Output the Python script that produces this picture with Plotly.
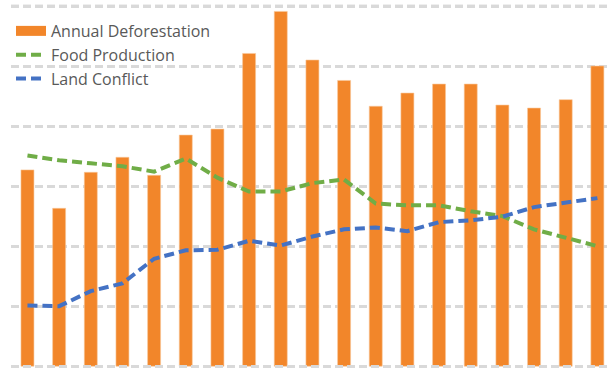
import plotly.graph_objects as go

years = list(range(2001, 2020))
deforestation = [32.7, 26.3, 32.3, 34.8, 31.8, 38.5, 39.5, 52.1, 59.1, 51.0,
                 47.6, 43.3, 45.5, 47.0, 47.0, 43.5, 43.0, 44.4, 50.0]
food_production = [35.1, 34.3, 33.8, 33.3, 32.4, 34.6, 31.4, 29.1, 29.1, 30.5,
                   31.1, 27.1, 26.8, 26.8, 25.8, 25.0, 22.8, 21.4, 20.0]
land_conflict = [10.1, 10.0, 12.5, 13.8, 17.9, 19.3, 19.4, 20.9, 20.1, 21.6,
                 22.8, 23.1, 22.5, 24.0, 24.3, 24.9, 26.5, 27.2, 28.0]
y_ticks = [0, 10, 20, 30, 40, 50, 60]

ORANGE = "#F2862A"
GREEN = "#70AD47"
BLUE = "#4472C4"
GRID = "#D9D9D9"

x_range = [years[0] - 0.52, years[-1] + 0.43]

fig = go.Figure()
# edge gridlines as line traces (drawn first so they sit beneath the bars)
for v in (y_ticks[0], y_ticks[-1]):
    fig.add_trace(go.Scatter(x=x_range, y=[v, v], mode="lines", showlegend=False,
                             hoverinfo="skip", cliponaxis=False,
                             line=dict(color=GRID, width=2.5, dash="8px,4px")))
fig.add_trace(go.Bar(x=years, y=deforestation, name="Annual Deforestation",
                     marker=dict(color=ORANGE, line=dict(color="#F9C79A", width=0.6)),
                     width=0.41, showlegend=False))
fig.add_trace(go.Scatter(x=[None], y=[None], mode="lines", name="Annual Deforestation",
                         line=dict(color=ORANGE, width=10)))
fig.add_trace(go.Scatter(x=years, y=food_production, mode="lines", name="Food Production",
                         line=dict(color=GREEN, width=4, dash="10px,5px")))
fig.add_trace(go.Scatter(x=years, y=land_conflict, mode="lines", name="Land Conflict",
                         line=dict(color=BLUE, width=4, dash="10px,5px")))

# top gridline also as an overlay shape (no bar reaches it)
fig.add_shape(type="line", xref="x", x0=x_range[0], x1=x_range[1], yref="y",
              y0=y_ticks[-1], y1=y_ticks[-1],
              line=dict(color=GRID, width=2.5, dash="8px,4px"), layer="above")

fig.update_layout(
    width=611, height=369,
    margin=dict(l=11, r=0, t=0, b=1, pad=0),
    paper_bgcolor="white", plot_bgcolor="white",
    font=dict(family="Open Sans", size=16, color="#595959"),
    legend=dict(x=0.0, y=0.962, xanchor="left", yanchor="top",
                bgcolor="rgba(255,255,255,0)", traceorder="normal",
                font=dict(family="Open Sans", size=16, color="#595959")),
    xaxis=dict(range=x_range, showticklabels=False, showgrid=False,
               zeroline=False, showline=False, ticks=""),
    yaxis=dict(range=[-0.3, 61], tickmode="array", tickvals=y_ticks, showticklabels=False,
               showgrid=True, gridcolor=GRID, gridwidth=2.5, griddash="8px,4px",
               zeroline=False, showline=False, ticks=""),
)

fig.write_html("out.html")
